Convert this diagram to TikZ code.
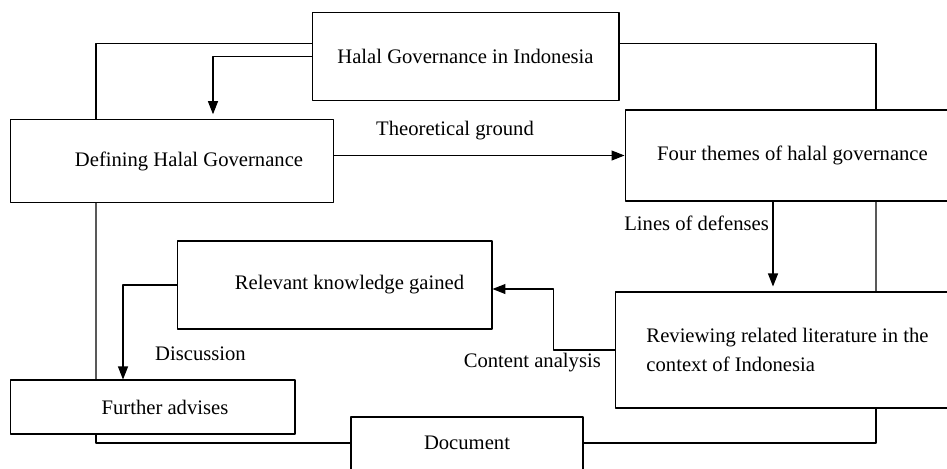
\documentclass[tikz,border=0pt]{standalone}
\usepackage{fontspec}
\setmainfont{Liberation Serif}
\usetikzlibrary{arrows.meta,positioning}
\tikzset{
  box/.style={draw,line width=.6pt,inner sep=0pt},
  link/.style={line width=.6pt},
  arr/.style={link,-{Triangle[length=.26cm,width=.2cm]}},
}
\begin{document}
\begin{tikzpicture}[x=.02cm,y=-.02cm,line join=round,font=\fontsize{11.75}{16.5}\selectfont]
  \useasboundingbox (0,0) rectangle (947,468);
  \node[box,minimum width=6.14cm,minimum height=1.75cm] (halal) at (465.5,56.5) {Halal Governance in Indonesia};
  \node[box,minimum width=6.48cm,minimum height=1.65cm] (defining) at (172,161) {\hspace{.68cm}Defining Halal Governance};
  \node[box,minimum width=6.7cm,minimum height=1.82cm] (themes) at (792.5,155.5) {Four themes of halal governance};
  \node[box,minimum width=6.3cm,minimum height=1.76cm] (relevant) at (334.5,285) {\hspace{.6cm}Relevant knowledge gained};
  \node[box,minimum width=6.9cm,minimum height=2.32cm,align=left] (review) at (787.5,350) {Reviewing related literature in the\\context of Indonesia};
  \node[box,minimum width=5.7cm,minimum height=1.08cm] (further) at (152.5,407) {\hspace{.5cm}Further advises};
  \node[box,minimum width=4.64cm,minimum height=1.46cm,text depth=.44cm] (document) at (467,453.5) {Document};
  % outer frame
  \draw[link] (halal.175) -| ([xshift=-1.52cm]defining.north);
  \draw[link] ([xshift=-1.52cm]defining.south) -- ([xshift=-1.13cm]further.north);
  \draw[link] ([xshift=-1.13cm]further.south) |- ([yshift=.21cm]document.west);
  \draw[link] (halal.5) -| ([xshift=1.67cm]themes.north);
  \draw[link] ([xshift=1.67cm]themes.south) -- ([xshift=1.77cm]review.north);
  \draw[link] ([xshift=1.77cm]review.south) |- ([yshift=.21cm]document.east);
  % flow
  \draw[arr,shorten >=.1cm] (halal.west) -| ([xshift=.82cm]defining.north);
  \draw[arr] (defining.east |- themes.west) -- (themes.west);
  \draw[arr,shorten >=.1cm] ([xshift=-.29cm]review.north |- themes.south) -- ([xshift=-.29cm]review.north);
  \draw[arr] (review.west) -- ++(-61,0) |- ([yshift=-.08cm]relevant.east);
  \draw[arr] (relevant.west) -| ([xshift=-.59cm]further.north);
  \node[anchor=base west] (theory) at (370,135) {Theoretical ground};
  \node[anchor=base east] (defenses) at (775,230) {Lines of defenses};
  \node[anchor=base east] (analysis) at (607,367) {Content analysis};
  \node[anchor=base west] (discussion) at (149,360) {Discussion};
\end{tikzpicture}
\end{document}
